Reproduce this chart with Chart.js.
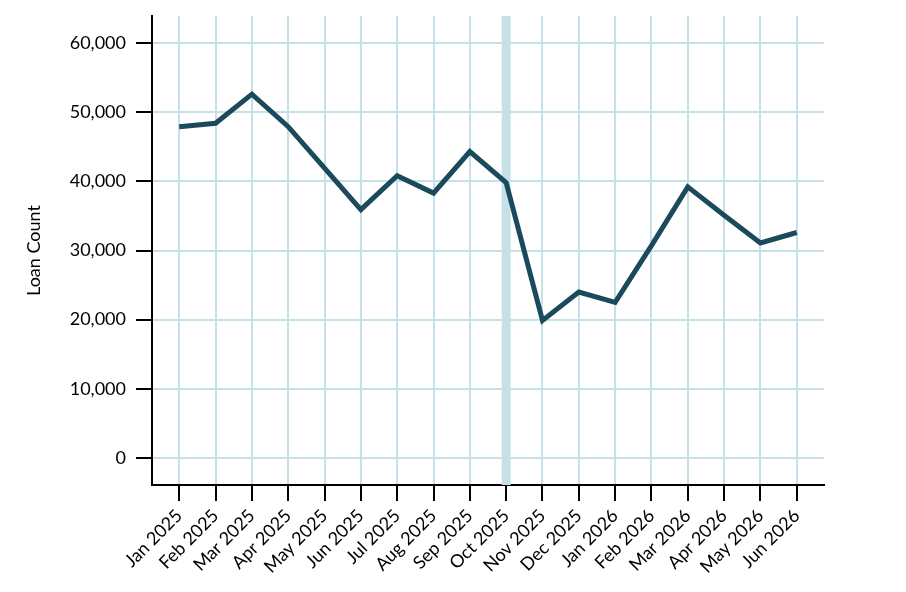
<!DOCTYPE html>
<html>
<head>
<meta charset="utf-8">
<script src="https://cdn.jsdelivr.net/npm/chart.js@4/dist/chart.umd.min.js"></script>
<style>
html,body{margin:0;padding:0;background:#fff;}
#wrap{width:906px;height:592px;}
</style>
</head>
<body>
<div id="wrap"><canvas id="c" width="906" height="592"></canvas></div>
<script>
const categories = ["Jan 2025","Feb 2025","Mar 2025","Apr 2025","May 2025","Jun 2025","Jul 2025","Aug 2025","Sep 2025","Oct 2025","Nov 2025","Dec 2025","Jan 2026","Feb 2026","Mar 2026","Apr 2026","May 2026","Jun 2026"];
const loanCount = [47900,48400,52600,47900,41900,35900,40800,38300,44300,39800,19900,24000,22500,30700,39200,35100,31100,32600];
const yTicks = [0,10000,20000,30000,40000,50000,60000];
const highlightIndex = 9;
const yMin = -3900, yMax = 63900;

const FONT = "Lato, 'Open Sans', sans-serif";
const GRID = "#c6e0e8";
const LINE = "#1b4a5c";

const mainData = loanCount.map((v,i)=>({x:i,y:v}));
const bandData = [{x:highlightIndex,y:yMin},{x:highlightIndex,y:yMax}];

new Chart(document.getElementById('c'), {
  type: 'line',
  data: {
    datasets: [
      {
        label: 'Loan Count',
        data: mainData,
        borderColor: LINE,
        borderWidth: 5,
        pointRadius: 0,
        tension: 0,
        borderJoinStyle: 'miter',
        borderCapStyle: 'butt',
        order: 1
      },
      {
        label: 'highlight',
        data: bandData,
        borderColor: GRID,
        borderWidth: 9,
        pointRadius: 0,
        borderCapStyle: 'butt',
        order: 2
      }
    ]
  },
  options: {
    responsive: false,
    animation: false,
    devicePixelRatio: 1,
    layout: { padding: { left: 0, right: 82, top: 16, bottom: 0 } },
    plugins: { legend: { display: false }, tooltip: { enabled: false } },
    scales: {
      x: {
        type: 'linear',
        min: -0.75,
        max: categories.length - 1 + 0.75,
        afterBuildTicks: (s) => { s.ticks = categories.map((c,i)=>({value:i})); },
        afterFit: (s) => { s.height = 107; s.paddingLeft = 0; s.paddingRight = 0; },
        ticks: {
          autoSkip: false,
          maxRotation: 45,
          minRotation: 45,
          padding: 4,
          color: '#000',
          font: { family: FONT, size: 18 },
          callback: (v) => categories[v]
        },
        grid: {
          color: GRID,
          lineWidth: 2,
          tickColor: '#000',
          tickLength: 16,
          tickWidth: 2,
          drawOnChartArea: true
        },
        border: { color: '#000', width: 2 }
      },
      y: {
        type: 'linear',
        min: yMin,
        max: yMax,
        afterBuildTicks: (s) => { s.ticks = yTicks.map(v=>({value:v})); },
        afterFit: (s) => { s.width = 152; s.paddingTop = 0; s.paddingBottom = 0; },
        title: {
          display: true,
          text: 'Loan Count',
          color: '#000',
          font: { family: FONT, size: 18 },
          padding: { top: 23, bottom: 0 }
        },
        ticks: {
          color: '#000',
          padding: 10,
          font: { family: FONT, size: 18 },
          callback: (v) => v.toLocaleString('en-US')
        },
        grid: {
          color: GRID,
          lineWidth: 2,
          tickColor: '#000',
          tickLength: 16,
          tickWidth: 2
        },
        border: { color: '#000', width: 2 }
      }
    }
  }
});
</script>
</body>
</html>
